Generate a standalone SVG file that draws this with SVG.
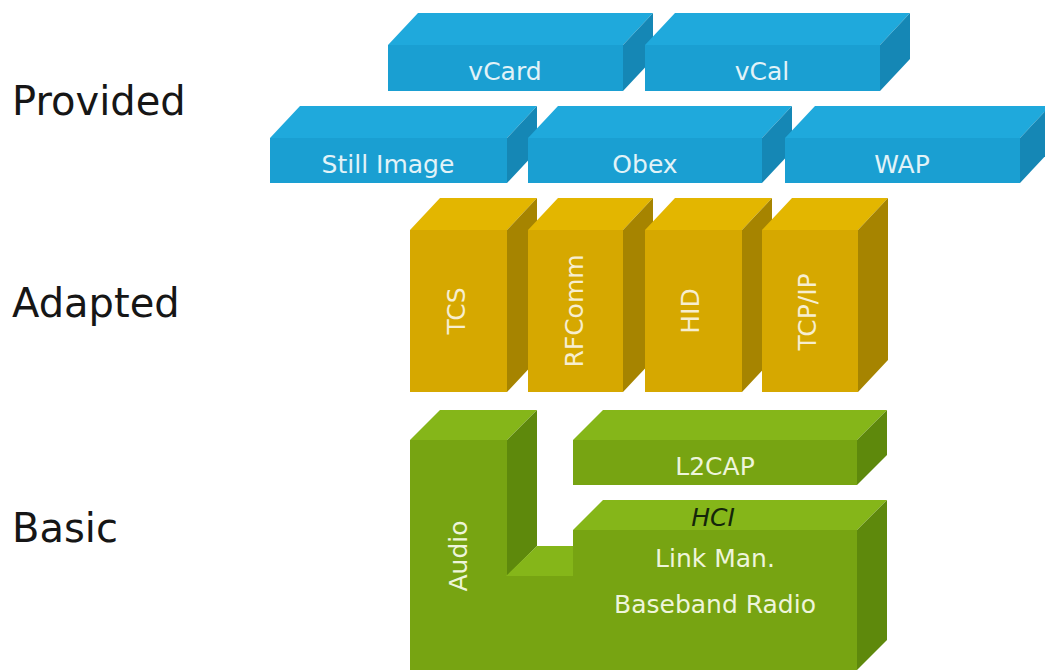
<svg xmlns="http://www.w3.org/2000/svg" width="1045" height="672" viewBox="0 0 1045 672">
  <style>
    .lbl { font-family: "DejaVu Sans", Verdana, sans-serif; font-size: 40px; fill: #161616; }
    .t { font-family: "DejaVu Sans", Verdana, sans-serif; font-size: 25px; text-anchor: middle; }
    .b-front { fill: #1a9fd2; }
    .b-top { fill: #1fa9dc; }
    .b-side { fill: #1587b5; }
    .b-txt { fill: #e2f3f8; }
    .g-front { fill: #d6a800; }
    .g-top { fill: #e3b600; }
    .g-side { fill: #a68400; }
    .g-txt { fill: #f7eed0; }
    .v-front { fill: #77a412; }
    .v-top { fill: #85b619; }
    .v-side { fill: #5e890c; }
    .v-txt { fill: #eef5da; }
    .hci { fill: #15260a; font-style: italic; }
  </style>
  <rect width="1045" height="672" fill="#ffffff"/>

  <!-- layer labels -->
  <g id="layer-labels">
    <text class="lbl" x="12" y="115">Provided</text>
    <text class="lbl" x="12" y="317">Adapted</text>
    <text class="lbl" x="12" y="542">Basic</text>
  </g>

  <!-- provided layer, back row -->
  <g id="vcard">
    <rect class="b-front" x="388" y="45" width="235" height="46"/>
    <polygon class="b-top" points="388,45 418,13 653,13 623,45"/>
    <polygon class="b-side" points="623,45 653,13 653,59 623,91"/>
    <text class="t b-txt" x="505" y="80">vCard</text>
  </g>
  <g id="vcal">
    <rect class="b-front" x="645" y="45" width="235" height="46"/>
    <polygon class="b-top" points="645,45 675,13 910,13 880,45"/>
    <polygon class="b-side" points="880,45 910,13 910,59 880,91"/>
    <text class="t b-txt" x="762" y="80">vCal</text>
  </g>

  <!-- provided layer, front row -->
  <g id="still-image">
    <rect class="b-front" x="270" y="138" width="237" height="45"/>
    <polygon class="b-top" points="270,138 300,106 537,106 507,138"/>
    <polygon class="b-side" points="507,138 537,106 537,151 507,183"/>
    <text class="t b-txt" x="388" y="173">Still Image</text>
  </g>
  <g id="obex">
    <rect class="b-front" x="528" y="138" width="234" height="45"/>
    <polygon class="b-top" points="528,138 558,106 792,106 762,138"/>
    <polygon class="b-side" points="762,138 792,106 792,151 762,183"/>
    <text class="t b-txt" x="645" y="173">Obex</text>
  </g>
  <g id="wap">
    <rect class="b-front" x="785" y="138" width="235" height="45"/>
    <polygon class="b-top" points="785,138 815,106 1050,106 1020,138"/>
    <polygon class="b-side" points="1020,138 1050,106 1050,151 1020,183"/>
    <text class="t b-txt" x="902" y="173">WAP</text>
  </g>

  <!-- adapted layer -->
  <g id="tcs">
    <rect class="g-front" x="410" y="230" width="97" height="162"/>
    <polygon class="g-top" points="410,230 440,198 537,198 507,230"/>
    <polygon class="g-side" points="507,230 537,198 537,360 507,392"/>
    <text class="t g-txt" transform="translate(465,311) rotate(-90)">TCS</text>
  </g>
  <g id="rfcomm">
    <rect class="g-front" x="528" y="230" width="95" height="162"/>
    <polygon class="g-top" points="528,230 558,198 653,198 623,230"/>
    <polygon class="g-side" points="623,230 653,198 653,360 623,392"/>
    <text class="t g-txt" transform="translate(583,311) rotate(-90)">RFComm</text>
  </g>
  <g id="hid">
    <rect class="g-front" x="645" y="230" width="97" height="162"/>
    <polygon class="g-top" points="645,230 675,198 772,198 742,230"/>
    <polygon class="g-side" points="742,230 772,198 772,360 742,392"/>
    <text class="t g-txt" transform="translate(699,311) rotate(-90)">HID</text>
  </g>
  <g id="tcpip">
    <rect class="g-front" x="762" y="230" width="96" height="162"/>
    <polygon class="g-top" points="762,230 792,198 888,198 858,230"/>
    <polygon class="g-side" points="858,230 888,198 888,360 858,392"/>
    <text class="t g-txt" transform="translate(816,312) rotate(-90)">TCP/IP</text>
  </g>

  <!-- basic layer -->
  <g id="audio">
    <rect class="v-front" x="410" y="440" width="97" height="230"/>
    <polygon class="v-top" points="410,440 440,410 537,410 507,440"/>
    <polygon class="v-side" points="507,440 537,410 537,546 507,576"/>
    <text class="t v-txt" transform="translate(467,556) rotate(-90)">Audio</text>
  </g>
  <g id="l2cap">
    <rect class="v-front" x="573" y="440" width="284" height="45"/>
    <polygon class="v-top" points="573,440 603,410 887,410 857,440"/>
    <polygon class="v-side" points="857,440 887,410 887,455 857,485"/>
    <text class="t v-txt" x="715" y="475">L2CAP</text>
  </g>
  <g id="baseband">
    <polygon class="v-top" points="506,576 537,546 574,546 574,576"/>
    <polygon class="v-front" points="505,576 573,576 573,530 857,530 857,670 505,670"/>
    <polygon class="v-top" points="573,530 603,500 887,500 857,530"/>
    <polygon class="v-side" points="857,530 887,500 887,640 857,670"/>
    <text class="t hci" x="713" y="526">HCI</text>
    <text class="t v-txt" x="715" y="567">Link Man.</text>
    <text class="t v-txt" x="715" y="613">Baseband Radio</text>
  </g>
</svg>
